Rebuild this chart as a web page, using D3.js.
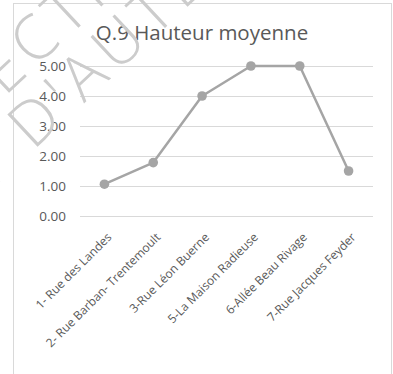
<!DOCTYPE html>
<html>
<head>
<meta charset="utf-8">
<script src="https://cdn.jsdelivr.net/npm/d3@7/dist/d3.min.js"></script>
<style>
  html, body { margin: 0; padding: 0; background: #fff; }
  svg { display: block; }
  text { font-family: "Open Sans", "Liberation Sans", sans-serif; }
</style>
</head>
<body>
<svg id="chart" width="393" height="374"></svg>
<script>
// Q.9 average height per street
const categories = [
  "1- Rue des Landes",
  "2- Rue Barban- Trentemoult",
  "3-Rue Léon Buerne",
  "5-La Maison Radieuse",
  "6-Allée Beau Rivage",
  "7-Rue Jacques Feyder"
];
const values = [1.06, 1.78, 4.0, 5.0, 5.0, 1.5];
const yTicks = [0, 1, 2, 3, 4, 5];
const title = "Q.9 Hauteur moyenne";
const watermarkLines = ["PROTECTION", "DROIT D'AUTEUR"];

const svg = d3.select("#chart");
const plot = { left: 80, right: 373, top: 66, bottom: 216 };
const textColor = "#595959";
const gridColor = "#d9d9d9";
const seriesColor = "#a5a5a5";

// chart frame
svg.append("rect")
  .attr("x", 13.5).attr("y", 3.5)
  .attr("width", 378).attr("height", 380)
  .attr("fill", "#fff")
  .attr("stroke", gridColor).attr("stroke-width", 1);

const x = d3.scaleBand().domain(categories).range([plot.left, plot.right]);
const y = d3.scaleLinear().domain([0, 5]).range([plot.bottom, plot.top]);
const cx = d => x(d) + x.bandwidth() / 2;

// value axis with gridlines
const yAxis = svg.append("g")
  .attr("transform", `translate(${plot.left},0)`)
  .call(d3.axisLeft(y)
    .tickValues(yTicks)
    .tickFormat(d3.format(".2f"))
    .tickSize(-(plot.right - plot.left))
    .tickPadding(14));
yAxis.select(".domain").remove();
yAxis.selectAll(".tick line").attr("stroke", gridColor).attr("stroke-width", 1);
yAxis.selectAll(".tick text")
  .attr("fill", textColor)
  .style("font-size", "13.5px");

// category axis, labels at 45 degrees
const xAxis = svg.append("g")
  .attr("transform", `translate(0,${plot.bottom})`)
  .call(d3.axisBottom(x).tickSize(0));
xAxis.select(".domain").remove();
xAxis.selectAll(".tick text")
  .attr("fill", textColor)
  .style("font-size", "12px")
  .attr("text-anchor", "end")
  .attr("x", 0).attr("y", 0).attr("dy", "0.35em")
  .attr("transform", "translate(5,19) rotate(-45)");

// series line and markers
const line = d3.line()
  .x((d, i) => cx(categories[i]))
  .y(d => y(d));
svg.append("path")
  .datum(values)
  .attr("d", line)
  .attr("fill", "none")
  .attr("stroke", seriesColor)
  .attr("stroke-width", 2.5)
  .attr("stroke-linejoin", "round");
svg.append("g").selectAll("circle")
  .data(values)
  .join("circle")
  .attr("cx", (d, i) => cx(categories[i]))
  .attr("cy", d => y(d))
  .attr("r", 4.8)
  .attr("fill", seriesColor);

// title
svg.append("text")
  .attr("x", 202).attr("y", 40)
  .attr("text-anchor", "middle")
  .attr("fill", textColor)
  .style("font-size", "20.5px")
  .text(title);

// diagonal watermark across the top-left corner:
// each line is centred on one of its letters at a given point
const wmSize = 62;
const placeLine = (str, anchorIndex, px, py, angle) => {
  const g = svg.append("g")
    .attr("transform", `translate(${px},${py}) rotate(${angle})`);
  const t = g.append("text")
    .attr("x", 0).attr("y", wmSize * 0.36)
    .style("font-size", wmSize + "px")
    .style("font-weight", 300)
    .style("letter-spacing", "7px")
    .attr("fill", "#cccccc")
    .text(str);
  const n = t.node();
  const s = n.getStartPositionOfChar(anchorIndex).x;
  const e = n.getEndPositionOfChar(anchorIndex).x;
  t.attr("x", -(s + e) / 2);
};
placeLine(watermarkLines[0], 5, 36, 37, -43);
placeLine(watermarkLines[1], 8, 85, 72, -43);
</script>
</body>
</html>
